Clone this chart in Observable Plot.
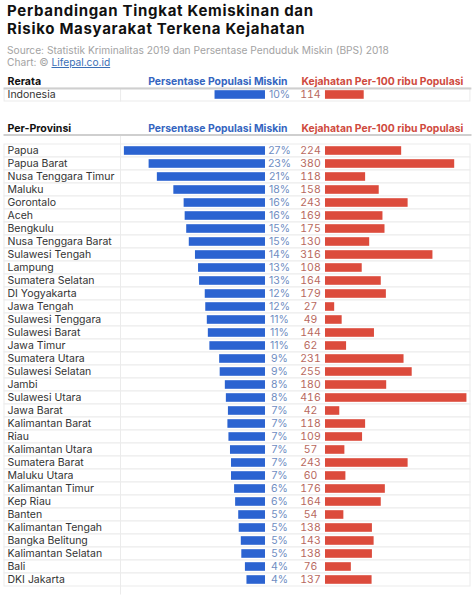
<!DOCTYPE html>
<html>
<head>
<meta charset="utf-8">
<script src="https://cdn.jsdelivr.net/npm/d3@7"></script>
<script src="https://cdn.jsdelivr.net/npm/@observablehq/plot@0.6"></script>
<style>
  body { margin: 0; background: #fff; font-family: Inter, "Open Sans", sans-serif; }
  #wrap { position: relative; width: 474px; height: 600px; overflow: hidden; }
  .title { position: absolute; left: 7px; top: 2px; font-weight: 700; font-size: 15px; line-height: 18.4px; letter-spacing: 0.7px; color: #111; }
  .sub { position: absolute; left: 7px; top: 44px; font-size: 10.2px; line-height: 12px; color: #a3a3a3; }
  .sub a { color: #3b6fb6; text-decoration: underline; }
  #avg { position: absolute; left: 0; top: 68px; }
  #prov { position: absolute; left: 0; top: 110px; }
</style>
</head>
<body>
<div id="wrap">
  <div class="title">Perbandingan Tingkat Kemiskinan dan<br>Risiko Masyarakat Terkena Kejahatan</div>
  <div class="sub">Source: Statistik Kriminalitas 2019 dan Persentase Penduduk Miskin (BPS) 2018<br>Chart: © <a>Lifepal.co.id</a></div>
  <div id="avg"></div>
  <div id="prov"></div>
</div>
<script>
// ---- data ----
const avgNames = ["Indonesia"];
const avgPoverty = [9.8];
const avgCrime = [114];

const provinces = ["Papua", "Papua Barat", "Nusa Tenggara Timur", "Maluku", "Gorontalo", "Aceh", "Bengkulu",
  "Nusa Tenggara Barat", "Sulawesi Tengah", "Lampung", "Sumatera Selatan", "DI Yogyakarta", "Jawa Tengah",
  "Sulawesi Tenggara", "Sulawesi Barat", "Jawa Timur", "Sumatera Utara", "Sulawesi Selatan", "Jambi",
  "Sulawesi Utara", "Jawa Barat", "Kalimantan Barat", "Riau", "Kalimantan Utara", "Sumatera Barat",
  "Maluku Utara", "Kalimantan Timur", "Kep Riau", "Banten", "Kalimantan Tengah", "Bangka Belitung",
  "Kalimantan Selatan", "Bali", "DKI Jakarta"];
const povertyPct = [27.4, 22.6, 21.0, 17.8, 15.8, 15.6, 15.3, 14.8, 13.6, 13.0, 12.8, 11.7, 11.6,
  11.3, 11.1, 10.8, 8.9, 8.8, 7.8, 7.6, 7.2, 7.3, 7.1, 6.8, 6.6, 6.6, 6.0, 5.8, 5.2, 5.1, 4.7, 4.6, 3.9, 3.6];
const crimeRate = [224, 380, 118, 158, 243, 169, 175, 130, 316, 108, 164, 179, 27, 49, 144, 62, 231, 255,
  180, 416, 42, 118, 109, 57, 243, 60, 176, 164, 54, 138, 143, 138, 76, 137];

const headerAvg = "Rerata";
const headerProv = "Per-Provinsi";
const headerPoverty = "Persentase Populasi Miskin";
const headerCrime = "Kejahatan Per-100 ribu Populasi";

// ---- layout / style ----
const W = 474, ROW = 13.53;
const frameL = 4, frameR = 470;
const pxPerPct = 5.15, pxPerCrime = 0.34;
const blueEnd = 265, redStart = 325, dividerPx = 120;
const BLUE = "#2b63d1", RED = "#dc4b3c";
const BLUE_TXT = "#6f8dc2", RED_TXT = "#b8695e";
const FONT = "Inter, 'Open Sans', sans-serif";

const xMin = -(blueEnd - frameL) / pxPerPct;
const xMax = (frameR - blueEnd) / pxPerPct;
const crimeX = v => (redStart - blueEnd + v * pxPerCrime) / pxPerPct;
const pctFmt = v => d3.format(".0f")(v) + "%";

function table(names, pct, crime, header, marginTop, marginBottom) {
  const rows = names.map((name, i) => ({name, pct: pct[i], crime: crime[i]}));
  return Plot.plot({
    width: W,
    height: marginTop + rows.length * ROW + marginBottom,
    marginLeft: frameL, marginRight: W - frameR, marginTop, marginBottom,
    style: {fontFamily: FONT, fontSize: "10.5px", background: "transparent", overflow: "visible"},
    x: {domain: [xMin, xMax], axis: null},
    y: {domain: names, padding: 0, axis: null},
    marks: [
      Plot.cell(rows, {y: "name", fill: "white", stroke: "#ebebeb"}),
      Plot.ruleX([(dividerPx - blueEnd) / pxPerPct], {stroke: "#ebebeb"}),
      Plot.frame({anchor: "top", stroke: "#cfcfcf", strokeWidth: 2}),
      Plot.barX(rows, {y: "name", x1: d => -d.pct, x2: 0, fill: BLUE, insetTop: 2.2, insetBottom: 2.2}),
      Plot.barX(rows, {y: "name", x1: crimeX(0), x2: d => crimeX(d.crime), fill: RED, insetTop: 2.2, insetBottom: 2.2}),
      Plot.text(rows, {y: "name", text: "name", frameAnchor: "left", dx: 3, textAnchor: "start", fill: "#333"}),
      Plot.text(rows, {y: "name", x: 0, text: d => pctFmt(d.pct), dx: 14, fill: BLUE_TXT}),
      Plot.text(rows, {y: "name", x: crimeX(0), text: "crime", dx: -15, fill: RED_TXT}),
      Plot.text([header], {frameAnchor: "top-left", dx: 3, dy: -3, lineAnchor: "bottom", fontWeight: "bold", fill: "#111", fontSize: 10.6}),
      Plot.text([headerPoverty], {x: (287 - blueEnd) / pxPerPct, frameAnchor: "top", textAnchor: "end", lineAnchor: "bottom", dy: -3, fontWeight: "bold", fill: "#3565c0", fontSize: 10.4}),
      Plot.text([headerCrime], {x: (301 - blueEnd) / pxPerPct, frameAnchor: "top", textAnchor: "start", lineAnchor: "bottom", dy: -3, fontWeight: "bold", fill: "#cf4a3e", fontSize: 10.4})
    ]
  });
}

document.getElementById("avg").append(table(avgNames, avgPoverty, avgCrime, headerAvg, 20, 2));
document.getElementById("prov").append(table(provinces, povertyPct, crimeRate, headerProv, 24.5, 5));
</script>
</body>
</html>
